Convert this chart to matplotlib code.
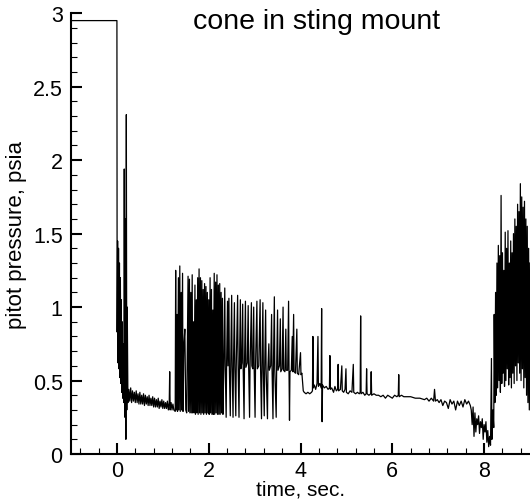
import matplotlib
matplotlib.use("Agg")
import matplotlib.pyplot as plt
from matplotlib.ticker import MultipleLocator, FormatStrFormatter
import numpy as np

plt.rcParams["font.family"] = ["Liberation Sans", "DejaVu Sans"]

# pitot trace (time in s, pressure in psia)
t_hold = [-1.0, 0.0]
p_hold = [2.95, 2.95]

t_start = [0.005, 0.015, 0.025, 0.035, 0.045, 0.055, 0.065, 0.075, 0.085, 0.095,
           0.105, 0.115, 0.125, 0.14, 0.15, 0.16, 0.175, 0.185, 0.195, 0.205,
           0.215, 0.225, 0.24]
p_start = [0.83, 1.45, 0.62, 1.40, 0.58, 1.30, 0.52, 1.20, 0.48, 1.05,
           0.42, 0.90, 0.38, 0.75, 0.35, 1.94, 0.25, 1.60, 0.10, 2.31,
           0.30, 1.00, 0.35]

t_decay = [0.26, 0.28, 0.30, 0.32, 0.34, 0.36, 0.38, 0.40, 0.42, 0.44, 0.46, 0.48,
           0.50, 0.52, 0.54, 0.56, 0.58, 0.60, 0.62, 0.64, 0.66, 0.68, 0.70, 0.72,
           0.74, 0.76, 0.78, 0.80, 0.82, 0.84, 0.86, 0.88, 0.90, 0.92, 0.94, 0.96,
           0.98, 1.00, 1.02, 1.04, 1.06, 1.08, 1.10, 1.12, 1.14, 1.15, 1.16, 1.18,
           1.20, 1.22, 1.24]
p_decay = [0.44, 0.36, 0.45, 0.35, 0.43, 0.36, 0.42, 0.35, 0.43, 0.35, 0.41, 0.34,
           0.42, 0.34, 0.40, 0.34, 0.41, 0.33, 0.40, 0.34, 0.39, 0.33, 0.40, 0.33,
           0.38, 0.33, 0.39, 0.32, 0.38, 0.32, 0.37, 0.32, 0.38, 0.31, 0.36, 0.32,
           0.37, 0.31, 0.36, 0.31, 0.35, 0.31, 0.36, 0.30, 0.35, 0.56, 0.30, 0.35,
           0.30, 0.34, 0.30]

t_burst = [1.27, 1.28, 1.29, 1.31, 1.32, 1.34, 1.35, 1.37, 1.38, 1.40, 1.41, 1.43,
           1.44, 1.46, 1.48, 1.50, 1.52, 1.55, 1.56, 1.58, 1.59, 1.61, 1.62, 1.64,
           1.65, 1.67, 1.68, 1.70, 1.71, 1.73, 1.74, 1.76, 1.77, 1.79, 1.80, 1.82,
           1.83, 1.85, 1.86, 1.88, 1.89, 1.91, 1.92, 1.94, 1.95, 1.97, 1.98, 2.00,
           2.01, 2.03, 2.04, 2.06, 2.07, 2.09, 2.10, 2.12, 2.13, 2.15, 2.16, 2.18,
           2.19, 2.21, 2.22, 2.24, 2.25, 2.27, 2.28, 2.30, 2.31]
p_burst = [0.29, 1.25, 0.30, 0.95, 0.29, 1.20, 0.30, 1.28, 0.29, 1.10, 0.30, 1.23,
           0.29, 0.75, 0.85, 0.30, 0.28, 1.21, 0.29, 1.19, 0.28, 1.10, 0.28, 1.22,
           0.28, 0.90, 0.28, 1.15, 0.27, 1.05, 0.28, 1.20, 0.27, 1.26, 0.28, 1.20,
           0.27, 1.18, 0.28, 1.12, 0.27, 1.16, 0.28, 1.14, 0.27, 1.10, 0.28, 1.05,
           0.27, 1.20, 0.28, 1.12, 0.27, 0.98, 0.27, 1.23, 0.27, 1.17, 0.28, 1.22,
           0.27, 1.15, 0.27, 1.16, 0.27, 1.10, 0.28, 1.06, 0.27]

t_mid = [2.33, 2.35, 2.36, 2.38, 2.39, 2.41, 2.42, 2.44, 2.45, 2.47, 2.48, 2.50,
         2.51, 2.53, 2.54, 2.56, 2.57, 2.59, 2.60, 2.63, 2.64, 2.66, 2.67, 2.69,
         2.70, 2.72, 2.74, 2.75, 2.77, 2.78, 2.80, 2.81, 2.84, 2.86, 2.87, 2.89,
         2.90, 2.93, 2.94, 2.96, 2.98, 2.99, 3.01, 3.02, 3.05, 3.06, 3.09, 3.12,
         3.13, 3.15, 3.16, 3.18, 3.19, 3.21, 3.22, 3.24, 3.25, 3.28, 3.29, 3.31,
         3.32, 3.35, 3.37, 3.38, 3.40, 3.41, 3.43, 3.44, 3.47, 3.48, 3.50, 3.51,
         3.54, 3.56, 3.57, 3.60, 3.62, 3.63, 3.66, 3.68, 3.69, 3.72, 3.74, 3.75,
         3.76, 3.77, 3.80, 3.82, 3.83, 3.85, 3.86, 3.89, 3.92, 3.93, 3.96, 4.00,
         4.01, 4.03, 4.06]
p_mid = [0.62, 1.13, 0.60, 0.25, 0.62, 1.04, 0.60, 1.06, 0.58, 0.26, 0.61, 1.08,
         0.60, 0.25, 0.62, 1.03, 0.59, 0.26, 0.60, 1.08, 0.61, 0.25, 0.60, 1.05,
         0.58, 0.62, 1.02, 0.60, 0.24, 0.61, 1.04, 0.59, 0.62, 1.01, 0.60, 0.25,
         0.59, 1.03, 0.60, 0.58, 1.00, 0.59, 0.25, 0.60, 1.04, 0.58, 0.60, 1.05,
         0.58, 0.24, 0.59, 1.03, 0.57, 0.26, 0.59, 0.98, 0.58, 0.24, 0.58, 0.75,
         0.57, 0.60, 0.95, 0.58, 0.24, 0.58, 1.07, 0.57, 0.25, 0.58, 0.98, 0.57,
         0.60, 0.92, 0.56, 0.58, 1.00, 0.57, 0.56, 0.85, 0.57, 0.57, 1.04, 0.55,
         0.23, 0.56, 0.57, 0.80, 0.56, 0.95, 0.56, 0.55, 0.85, 0.55, 0.54, 0.69,
         0.54, 0.55, 0.43]

t_flat = [4.08, 4.12, 4.16, 4.20, 4.24, 4.26, 4.27, 4.28, 4.30, 4.33, 4.36, 4.38,
          4.39, 4.42, 4.45, 4.46, 4.47, 4.48, 4.52, 4.56, 4.60, 4.63, 4.64, 4.65,
          4.68, 4.72, 4.75, 4.78, 4.81, 4.82, 4.83, 4.87, 4.90, 4.91, 4.94, 4.97,
          4.99, 5.00, 5.04, 5.08, 5.12, 5.15, 5.16, 5.20, 5.24, 5.28, 5.30, 5.31,
          5.32, 5.36, 5.40, 5.43, 5.44, 5.45, 5.49, 5.53, 5.54, 5.55, 5.60, 5.65,
          5.70, 5.75, 5.80, 5.85, 5.90, 5.95, 6.00, 6.05, 6.10, 6.13, 6.14, 6.15,
          6.20, 6.25, 6.30, 6.40, 6.50, 6.60, 6.70, 6.75, 6.80, 6.85, 6.90, 6.92,
          6.94, 6.98, 7.02, 7.06, 7.10, 7.14, 7.18, 7.22, 7.26, 7.30, 7.34, 7.38,
          7.42, 7.46, 7.50, 7.54, 7.58, 7.62, 7.66, 7.70]
p_flat = [0.42, 0.41, 0.42, 0.41, 0.42, 0.43, 0.80, 0.45, 0.47, 0.44, 0.48, 0.80,
          0.46, 0.48, 0.45, 0.99, 0.22, 0.47, 0.45, 0.46, 0.44, 0.45, 0.67, 0.44,
          0.45, 0.42, 0.46, 0.43, 0.44, 0.61, 0.43, 0.44, 0.60, 0.43, 0.42, 0.44,
          0.58, 0.42, 0.41, 0.43, 0.42, 0.61, 0.42, 0.41, 0.42, 0.41, 0.42, 0.94,
          0.41, 0.42, 0.40, 0.41, 0.58, 0.41, 0.40, 0.41, 0.56, 0.40, 0.41, 0.40,
          0.40, 0.39, 0.40, 0.38, 0.40, 0.39, 0.38, 0.40, 0.39, 0.40, 0.54, 0.39,
          0.40, 0.39, 0.39, 0.39, 0.38, 0.38, 0.37, 0.38, 0.36, 0.38, 0.36, 0.44,
          0.36, 0.37, 0.35, 0.37, 0.33, 0.36, 0.35, 0.31, 0.37, 0.34, 0.36, 0.30,
          0.36, 0.33, 0.36, 0.32, 0.37, 0.34, 0.36, 0.33]

t_dip = [7.72, 7.74, 7.76, 7.78, 7.80, 7.82, 7.84, 7.86, 7.88, 7.90, 7.92, 7.94,
         7.96, 7.98, 8.00, 8.02, 8.04, 8.06, 8.08, 8.10, 8.12, 8.14, 8.16, 8.17,
         8.19, 8.21]
p_dip = [0.30, 0.20, 0.32, 0.12, 0.28, 0.15, 0.24, 0.20, 0.26, 0.14, 0.22, 0.18,
         0.24, 0.10, 0.20, 0.15, 0.22, 0.08, 0.16, 0.05, 0.12, 0.06, 0.65, 0.10,
         0.30, 0.18]

t_end = [8.220, 8.235, 8.250, 8.265, 8.280, 8.295, 8.310, 8.325, 8.340, 8.355,
         8.370, 8.385, 8.400, 8.415, 8.430, 8.445, 8.460, 8.475, 8.490, 8.505,
         8.520, 8.535, 8.550, 8.565, 8.580, 8.595, 8.610, 8.625, 8.640, 8.655,
         8.670, 8.685, 8.700, 8.715, 8.730, 8.745, 8.760, 8.775, 8.790, 8.805,
         8.820, 8.835, 8.850, 8.865, 8.880, 8.895, 8.910, 8.925, 8.940, 8.955,
         8.970, 8.985, 9.000]
p_end = [0.95, 0.35, 1.10, 0.40, 1.30, 0.45, 1.42, 0.50, 1.35, 0.42,
         1.76, 0.48, 1.37, 0.55, 1.25, 0.46, 1.51, 0.50, 1.40, 0.58,
         1.52, 0.47, 1.30, 0.52, 1.45, 0.45, 1.37, 0.55, 1.50, 0.48,
         1.60, 0.60, 1.55, 0.50, 1.70, 0.62, 1.65, 0.55, 1.84, 0.50,
         1.75, 0.58, 1.68, 0.45, 1.72, 0.52, 1.60, 0.40, 1.55, 0.35,
         1.40, 0.30, 1.30]

time = np.concatenate([t_hold, t_start, t_decay, t_burst, t_mid, t_flat, t_dip, t_end])
pressure = np.concatenate([p_hold, p_start, p_decay, p_burst, p_mid, p_flat, p_dip, p_end])

fig = plt.figure(figsize=(5.30, 5.02), dpi=100)
ax = fig.add_axes([0.134, 0.0936, 0.866, 0.878])

ax.plot(time, pressure, color="black", linewidth=0.9)

ax.set_xlim(-1, 9)
ax.set_ylim(0, 3)
ax.xaxis.set_major_locator(MultipleLocator(2))
ax.xaxis.set_minor_locator(MultipleLocator(0.4))
ax.yaxis.set_major_locator(MultipleLocator(0.5))
ax.yaxis.set_minor_locator(MultipleLocator(0.1))
ax.yaxis.set_major_formatter(FormatStrFormatter("%g"))

ax.spines["top"].set_visible(False)
ax.spines["right"].set_visible(False)
ax.spines["left"].set_linewidth(1.5)
ax.spines["bottom"].set_linewidth(1.5)
ax.tick_params(which="major", direction="in", length=8, width=1.5, labelsize=15.5)
ax.tick_params(axis="y", which="major", pad=6)
ax.tick_params(axis="x", which="major", pad=4)
ax.tick_params(which="minor", direction="in", length=4, width=0.8)

ax.set_ylabel("pitot pressure, psia", fontsize=16, labelpad=4)
# x label sits tight under the tick labels, as in the reference
fig.text(300.5 / 530, 1 - 496 / 502, "time, sec.", fontsize=15,
         ha="center", va="baseline")
fig.text(316.5 / 530, 1 - 29 / 502, "cone in sting mount", fontsize=20.5,
         ha="center", va="baseline")

fig.savefig("out.png", dpi=100)
